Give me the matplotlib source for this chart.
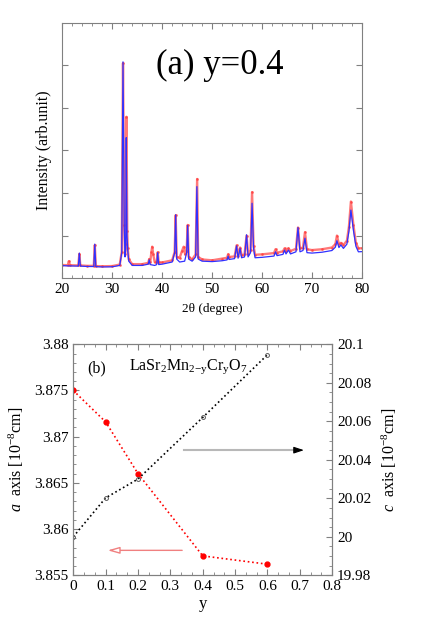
import numpy as np
import matplotlib
matplotlib.use("Agg")
import matplotlib.pyplot as plt

plt.rcParams['font.family'] = ['Liberation Serif', 'DejaVu Serif']
plt.rcParams['mathtext.fontset'] = 'custom'
plt.rcParams['mathtext.rm'] = 'Liberation Serif'
plt.rcParams['mathtext.it'] = 'Liberation Serif:italic'

# ---- (a) XRD pattern, y = 0.4 ----
tth_calc = [20, 21, 23.2, 23.4, 23.6, 25, 26.3, 26.5, 26.7, 28, 30, 31.5, 31.9, 32.15,
            32.4, 32.55, 32.7, 32.8, 32.95, 33.1, 33.3, 34, 36, 37.2, 37.4, 37.6, 38.5,
            38.9, 39.1, 39.3, 40, 42, 42.5, 42.7, 42.9, 43.5, 44.5, 44.9, 45.1, 45.3, 46,
            46.7, 46.95, 47.2, 48, 50, 52, 53.0, 53.2, 53.4, 54.5, 54.9, 55.2, 55.6, 55.9,
            56.5, 56.9, 57.2, 57.7, 58.0, 58.3, 58.6, 60, 62.4, 62.7, 63.0, 64.2, 64.5,
            64.8, 65.3, 65.7, 66.8, 67.2, 67.6, 68.2, 68.6, 69.0, 70, 72, 74, 74.7, 75.0,
            75.4, 75.8, 76.3, 77.0, 77.4, 77.8, 78.3, 78.8, 79.3, 80]
int_calc = [296, 290, 285, 590, 285, 275, 275, 800, 272, 265, 268, 300, 600, 5080,
            1200, 500, 700, 3300, 1000, 650, 400, 300, 300, 330, 430, 320, 300,
            320, 600, 320, 330, 380, 600, 1490, 450, 380, 400, 600, 1240, 450, 400,
            500, 2150, 450, 400, 390, 410, 430, 520, 440, 460, 760, 470, 700, 480,
            500, 1020, 500, 600, 1760, 700, 480, 490, 520, 620, 530, 560, 660,
            570, 660, 570, 620, 1190, 620, 650, 940, 600, 590, 610, 650, 730, 880,
            720, 780, 700, 800, 1100, 1600, 1130, 750, 620, 624]

tth_obs = [20, 21.1, 21.3, 21.5, 23.2, 23.4, 23.6, 25, 26.3, 26.5, 26.7, 28, 30, 31.5,
           31.9, 32.15, 32.4, 32.55, 32.7, 32.85, 33.0, 33.1, 33.3, 34, 36, 37.2, 37.4,
           37.6, 37.85, 38.0, 38.2, 38.5, 38.9, 39.1, 39.3, 40, 42, 42.5, 42.7, 42.9,
           43.5, 44.0, 44.3, 44.6, 44.9, 45.1, 45.3, 46, 46.7, 47.0, 47.2, 48, 50, 52,
           53.0, 53.2, 53.4, 54.5, 54.9, 55.2, 55.6, 55.9, 56.5, 56.9, 57.2, 57.7, 58.0,
           58.3, 58.6, 60, 62.4, 62.7, 63.0, 64.2, 64.5, 64.8, 65.3, 65.7, 66.8, 67.2,
           67.6, 68.2, 68.6, 69.0, 70, 72, 74, 74.7, 75.0, 75.4, 75.8, 76.3, 77.0, 77.4,
           77.8, 78.3, 78.8, 79.3, 80]
int_obs = [310, 305, 400, 305, 300, 570, 300, 290, 290, 780, 285, 280, 285, 320,
           620, 5050, 1250, 560, 800, 3790, 1100, 700, 440, 330, 330, 360, 450,
           380, 620, 740, 560, 380, 370, 610, 370, 370, 420, 620, 1480, 500,
           480, 650, 740, 560, 640, 1250, 500, 440, 560, 2330, 500, 440, 420, 460,
           480, 560, 500, 510, 770, 530, 720, 540, 560, 1000, 560, 660, 2020,
           760, 550, 560, 590, 680, 600, 630, 700, 640, 700, 640, 690, 1190,
           700, 720, 1080, 680, 660, 680, 720, 800, 1000, 800, 830, 780, 880, 1200,
           1800, 1250, 830, 700, 704]

# ---- (b) lattice constants vs y ----
y_cr = [0, 0.1, 0.2, 0.4, 0.6]
a_axis = [3.875, 3.8716, 3.8660, 3.8571, 3.8562]
c_axis = [20.000, 20.0202, 20.030, 20.062, 20.0946]

frame = '0.5'

fig = plt.figure(figsize=(4.36, 6.21), dpi=100)

# ========== (a) ==========
ax1 = fig.add_axes([0.143, 0.552, 0.687, 0.4115])
ax1.plot(tth_obs, int_obs, color='#ff2020', lw=1.7, alpha=0.6)
ax1.plot(tth_obs, int_obs, color='#ff4040', ls='none', marker='.', ms=2, alpha=0.7)
ax1.plot(tth_calc, int_calc, color='#3030ff', lw=0.9)
ax1.set_xlim(20, 80)
ax1.set_ylim(0, 6000)
ax1.set_xticks(np.arange(20, 81, 10))
ax1.set_xticks(np.arange(20, 81, 2), minor=True)
ax1.set_yticks(np.arange(1000, 6000, 1000))
ax1.set_yticklabels([])
ax1.tick_params(which='both', direction='in', top=True, right=True, color=frame,
                labelsize=11)
ax1.tick_params(which='major', length=4)
ax1.tick_params(which='minor', length=2)
for s in ax1.spines.values():
    s.set_color(frame)
ax1.set_xlabel('2θ (degree)', fontsize=9.5, labelpad=5)
ax1.set_ylabel('Intensity (arb.unit)', fontsize=11.5, labelpad=4)
ax1.text(51.6, 0.834, '(a) y=0.4', transform=ax1.get_xaxis_transform(),
         fontsize=25, ha='center', va='center')

# ========== (b) ==========
ax = fig.add_axes([0.168, 0.0736, 0.594, 0.372])
ax.plot(y_cr, a_axis, color='red', ls=':', lw=1.2, marker='o', ms=3.5,
        mfc='red', mec='red', zorder=3)
ax.set_xlim(0, 0.8)
ax.set_ylim(3.855, 3.88)
ax.set_xticks(np.arange(0, 0.81, 0.1))
ax.set_xticklabels(['0', '0.1', '0.2', '0.3', '0.4', '0.5', '0.6', '0.7', '0.8'])
ax.set_xticks(np.arange(0, 0.8001, 0.1 / 3), minor=True)
ax.set_yticks([3.855, 3.86, 3.865, 3.87, 3.875, 3.88])
ax.set_yticklabels(['3.855', '3.86', '3.865', '3.87', '3.875', '3.88'])
ax.set_yticks(np.arange(3.855, 3.8801, 0.001), minor=True)
ax.tick_params(which='both', direction='in', top=True, color=frame, labelsize=11)
ax.tick_params(which='major', length=4)
ax.tick_params(which='minor', length=2)
ax.set_xlabel('y', fontsize=12, labelpad=2)
ax.set_ylabel(r'$a$  axis [10$^{-8}$cm]', fontsize=11.5, labelpad=6)

ax2 = ax.twinx()
ax2.plot(y_cr, c_axis, color='black', ls=':', lw=1.2, marker='o', ms=2.8,
         mfc='none', mec='0.35', mew=0.7)
ax2.set_ylim(19.98, 20.1)
ax2.set_yticks([19.98, 20.0, 20.02, 20.04, 20.06, 20.08, 20.1])
ax2.set_yticklabels(['19.98', '20', '20.02', '20.04', '20.06', '20.08', '20.1'])
ax2.set_yticks(np.arange(19.98, 20.1001, 0.005), minor=True)
ax2.tick_params(which='both', direction='in', color=frame, labelsize=11)
ax2.tick_params(which='major', length=4)
ax2.tick_params(which='minor', length=2)
ax2.set_ylabel(r'$c$  axis [10$^{-8}$cm]', fontsize=11.5, labelpad=6)
for a_ in (ax, ax2):
    for s in a_.spines.values():
        s.set_color(frame)

# arrows
ax2.plot([0.342, 0.70], [20.045, 20.045], color='0.72', lw=1.5)
ax2.annotate('', xy=(0.721, 20.045), xytext=(0.69, 20.045),
             arrowprops=dict(arrowstyle='-|>,head_length=0.6,head_width=0.2',
                             color='black', lw=0.8))
ax.annotate('', xy=(0.098, 3.8577), xytext=(0.345, 3.8577),
            arrowprops=dict(arrowstyle='-|>,head_length=0.7,head_width=0.2',
                            color='#f08080', fc='white', lw=1.0))

ax.text(0.0915, 0.895, '(b)', transform=ax.transAxes, fontsize=11.5,
        ha='center', va='center')
ax.text(0.216, 0.905, r'LaSr$_2$Mn$_{2\mathrm{-y}}$Cr$_\mathrm{y}$O$_7$',
        transform=ax.transAxes, fontsize=11.5, ha='left', va='center')

fig.savefig('out.png', dpi=100)
